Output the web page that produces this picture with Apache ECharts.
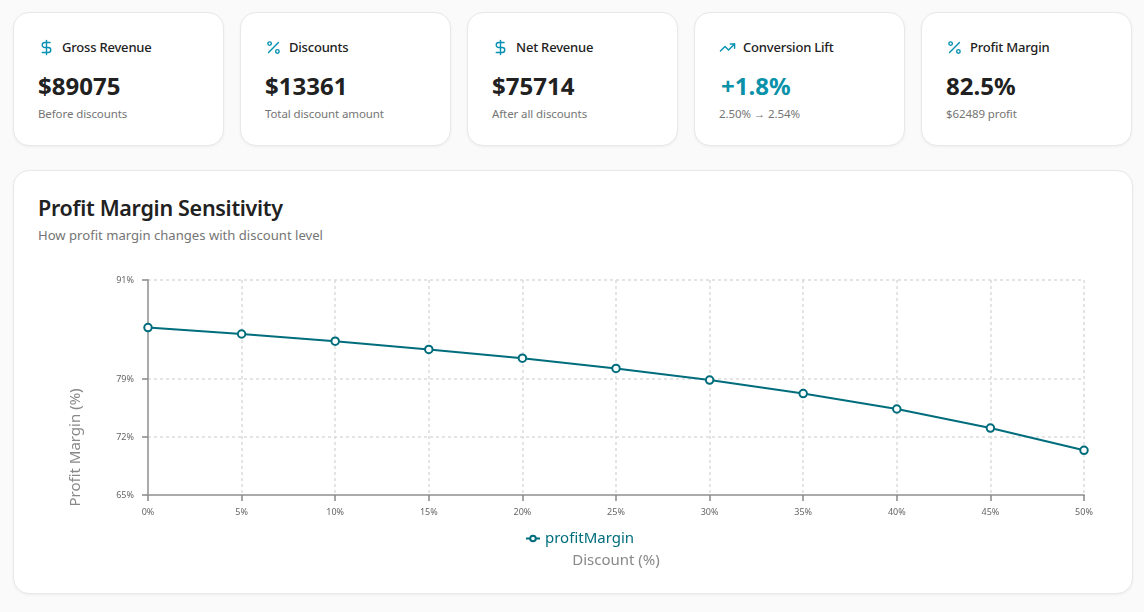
<!DOCTYPE html>
<html><head><meta charset="utf-8">
<style>
*{box-sizing:border-box}
html,body{margin:0;padding:0;width:1144px;height:612px;overflow:hidden;background:#fafafa;font-family:"Noto Sans","Open Sans",sans-serif;color:#212121}
.card{position:absolute;background:#fff;border:1px solid #e8e8e8;border-radius:16px;box-shadow:0 1px 3px rgba(0,0,0,.05)}
.kpi{top:12px;width:211px;height:134px}
.head{position:absolute;left:24px;top:25px;display:flex;align-items:center;height:18px}
.head svg{width:17px;height:17px;fill:none;stroke:#0891b2;stroke-width:2;stroke-linecap:round;stroke-linejoin:round;margin-right:7px}
.head span{font-size:13px;font-weight:500;letter-spacing:-.2px;color:#212121}
.val{position:absolute;left:24px;top:56px;font-size:24px;font-weight:700;line-height:34px}
.sub{position:absolute;left:24px;top:92px;font-size:11.5px;line-height:18px;color:#757575;letter-spacing:-.1px}
.teal{color:#0891a8;left:26px}
#panel{left:13px;top:170px;width:1120px;height:424px}
#panel h2{position:absolute;left:24px;top:21px;margin:0;font-size:21.5px;font-weight:600;line-height:32px;letter-spacing:-.3px}
#panel p{position:absolute;left:24px;top:55px;margin:0;font-size:13.1px;line-height:18px;color:#757575}
#chart{position:absolute;left:0;top:0;width:1144px;height:612px}
</style></head><body>
<div id="cards"></div>
<div class="card" id="panel"><h2>Profit Margin Sensitivity</h2><p>How profit margin changes with discount level</p></div>
<div id="chart"></div>
<script src="https://cdn.jsdelivr.net/npm/echarts@6/dist/echarts.min.js"></script>
<script>
const discountLabels = ['0%','5%','10%','15%','20%','25%','30%','35%','40%','45%','50%'];
const profitMargin = [85.25,84.47,83.6,82.6,81.55,80.3,78.9,77.27,75.4,73.1,70.4];
const yTicks = [65,72,79,91];
const kpiTitles = ['Gross Revenue','Discounts','Net Revenue','Conversion Lift','Profit Margin'];
const kpiValues = ['$89075','$13361','$75714','+1.8%','82.5%'];
const kpiSubs = ['Before discounts','Total discount amount','After all discounts','2.50% → 2.54%','$62489 profit'];
const kpiIcons = ['dollar','percent','dollar','trend','percent'];
const icons = {
 dollar:'<line x1="12" y1="2" x2="12" y2="22"/><path d="M17 5H9.5a3.5 3.5 0 0 0 0 7h5a3.5 3.5 0 0 1 0 7H6"/>',
 percent:'<line x1="19" y1="5" x2="5" y2="19"/><circle cx="6.5" cy="6.5" r="2.5"/><circle cx="17.5" cy="17.5" r="2.5"/>',
 trend:'<polyline points="22 7 13.5 15.5 8.5 10.5 2 17"/><polyline points="16 7 22 7 22 13"/>'
};
const lefts=[13,240,467,694,921];
document.getElementById('cards').innerHTML = kpiTitles.map((t,i)=>
 `<div class="card kpi" style="left:${lefts[i]}px"><div class="head"><svg viewBox="0 0 24 24">${icons[kpiIcons[i]]}</svg><span>${t}</span></div><div class="val${i===3?' teal':''}">${kpiValues[i]}</div><div class="sub">${kpiSubs[i]}</div></div>`).join('');
const lineColor='#006d7c';
const gridStyle={color:'#dcdcdc',type:[3,3],width:1.5};
const chart=echarts.init(document.getElementById('chart'),null,{renderer:'canvas'});
chart.setOption({
 animation:false,
 textStyle:{fontFamily:'"Noto Sans","Open Sans",sans-serif'},
 grid:{left:148,right:60,top:280,bottom:117},
 legend:{show:true,top:526,left:520,itemWidth:14,itemHeight:7,itemGap:6,
   textStyle:{color:lineColor,fontSize:15},
   data:[{name:'profitMargin'}]},
 xAxis:{type:'category',boundaryGap:false,data:discountLabels,
   name:'Discount (%)',nameLocation:'middle',nameGap:58,nameTextStyle:{color:'#888',fontSize:15},
   axisLine:{lineStyle:{color:'#aaa',width:2}},
   axisTick:{show:true,length:6,alignWithLabel:true,lineStyle:{color:'#888',width:1.5}},
   axisLabel:{color:'#666',fontSize:9,margin:13,interval:0,showMinLabel:true,showMaxLabel:true},
   splitLine:{show:true,lineStyle:gridStyle}},
 yAxis:{type:'value',min:65,max:91,
   name:'Profit Margin (%)',nameLocation:'middle',nameGap:65,nameRotate:90,
   nameTextStyle:{color:'#888',fontSize:15,padding:[0,120,0,0]},
   axisLine:{show:true,lineStyle:{color:'#aaa',width:2}},
   axisTick:{show:true,length:6,customValues:yTicks,lineStyle:{color:'#888',width:1.5}},
   axisLabel:{color:'#666',fontSize:9,margin:14,customValues:yTicks,formatter:v=>v+'%'},
   splitLine:{show:true,lineStyle:gridStyle}},
 series:[{name:'profitMargin',type:'line',data:profitMargin,smooth:false,
   symbol:'circle',symbolSize:7.5,showSymbol:true,
   lineStyle:{color:lineColor,width:2},
   itemStyle:{color:'#fff',borderColor:lineColor,borderWidth:2}}]
});
</script></body></html>
